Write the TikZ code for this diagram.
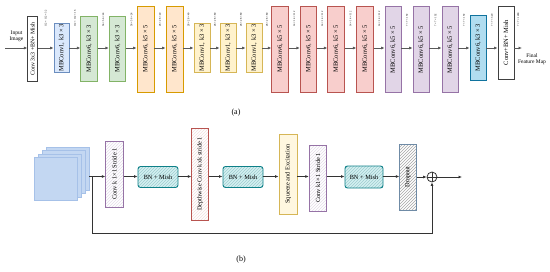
\documentclass[tikz,border=0pt]{standalone}
\usepackage{fontspec}
\setmainfont{Liberation Serif}
\usetikzlibrary{arrows.meta, patterns}

\definecolor{blueF}{HTML}{DAE8FC}   \definecolor{blueD}{HTML}{6C8EBF}
\definecolor{greenF}{HTML}{D5E8D4}  \definecolor{greenD}{HTML}{82B366}
\definecolor{orangeF}{HTML}{FFE6CC} \definecolor{orangeD}{HTML}{D79B00}
\definecolor{yellowF}{HTML}{FFF2CC} \definecolor{yellowD}{HTML}{D6B656}
\definecolor{redF}{HTML}{F8CECC}    \definecolor{redD}{HTML}{B85450}
\definecolor{purpleF}{HTML}{E1D5E7} \definecolor{purpleD}{HTML}{9673A6}
\definecolor{cyanF}{HTML}{B1DDF0}   \definecolor{cyanD}{HTML}{10739E}
\definecolor{tealF}{HTML}{B0E3E6}   \definecolor{tealD}{HTML}{0E8088}
\definecolor{mapF}{HTML}{C3D7F2}    \definecolor{mapD}{HTML}{A6C1E8}
\definecolor{dropD}{HTML}{6F8BA6}

\newcommand{\vtxt}[1]{\rotatebox{90}{#1}}

\tikzset{
  efbox/.style={rectangle, draw, line width=0.7pt, inner sep=0pt,
                font=\fontsize{6.5}{7}\selectfont},
  efconv/.style={efbox, draw=black!75, fill=white, minimum width=9.5pt},
  efblue/.style={efbox, draw=blueD, fill=blueF, minimum width=15pt},
  efgreen/.style={efbox, draw=greenD, fill=greenF, minimum width=16.5pt},
  eforange/.style={efbox, draw=orangeD, fill=orangeF, minimum width=17pt},
  efyellow/.style={efbox, draw=yellowD, fill=yellowF, minimum width=16pt},
  efred/.style={efbox, draw=redD, fill=redF, minimum width=16.5pt},
  efpurple/.style={efbox, draw=purpleD, fill=purpleF, minimum width=16pt},
  efcyan/.style={efbox, draw=cyanD, fill=cyanF, minimum width=16pt},
  efshort/.style={minimum height=49pt},
  efmid/.style={minimum height=65pt},
  eftall/.style={minimum height=86pt},
  efflow/.style={draw=black!65, line width=0.7pt,
                 -{Latex[length=3.5pt, width=3pt]}},
  efdim/.style={above=21pt, inner sep=0pt, font=\fontsize{2.7}{3}\selectfont},
  efnote/.style={align=center, inner sep=0pt, font=\fontsize{5.5}{6.2}\selectfont},
  efcap/.style={inner sep=0pt, font=\fontsize{8}{9}\selectfont},
  % block of the MBConv detail
  efmap/.style={rectangle, draw=mapD, fill=mapF, line width=0.6pt,
                minimum size=43pt},
  efstage/.style={efbox, line width=0.9pt, font=\fontsize{6.3}{7}\selectfont},
  efpw/.style={efstage, draw=purpleD, preaction={fill=white},
               pattern=north east lines, pattern color=purpleD!25,
               minimum width=17.5pt, minimum height=66pt},
  efbn/.style={efstage, rounded corners=2.5pt, draw=tealD,
               preaction={fill=tealF!55}, pattern=north east lines,
               pattern color=tealD!40, minimum width=40pt, minimum height=21pt},
  efdw/.style={efstage, draw=redD, preaction={fill=white},
               pattern=north east lines, pattern color=redD!18,
               minimum width=16.5pt, minimum height=92pt},
  efse/.style={efstage, draw=yellowD, fill=yellowF!60,
               minimum width=18pt, minimum height=80pt},
  efdrop/.style={efstage, draw=dropD, preaction={fill=white},
                 pattern=north east lines, pattern color=black!35,
                 minimum width=16.5pt, minimum height=66pt},
  efsum/.style={circle, draw=black!80, line width=0.8pt, minimum size=10pt,
                inner sep=0pt},
  eflink/.style={draw=black!80, line width=0.8pt,
                 -{Latex[length=3.5pt, width=3pt]}}
}

\begin{document}
\begin{tikzpicture}[x=1pt, y=-1pt]
  \useasboundingbox (0,0) rectangle (550,271);

  % (a) the backbone
  \node[efnote] (inimg) at (16.5,36) {Input\\Image};
  \coordinate (inpt) at (5,48);
  \node[efconv, efmid, font=\fontsize{5.9}{6.5}\selectfont] (conv) at (32.5,49)
    {\vtxt{Conv 3x3 +BN+ Mish}};
  \node[efblue, efshort] (mbA) at (61.5,48) {\vtxt{MBConv1, k3 × 3}};
  \foreach \n/\x in {gA/89, gB/117.5}
    \node[efgreen, efmid] (\n) at (\x,49) {\vtxt{MBConv6, k3 × 3}};
  \foreach \n/\x in {oA/145.5, oB/174.5}
    \node[eforange, eftall] (\n) at (\x,49) {\vtxt{MBConv6, k5 × 5}};
  \foreach \n/\x in {yA/202, yB/228, yC/254}
    \node[efyellow, efshort] (\n) at (\x,48) {\vtxt{MBConv1, k3 × 3}};
  \foreach \n/\x in {rA/280, rB/308.5, rC/336, rD/365}
    \node[efred, eftall] (\n) at (\x,49) {\vtxt{MBConv6, k5 × 5}};
  \foreach \n/\x in {pA/393, pB/421, pC/450}
    \node[efpurple, eftall] (\n) at (\x,49.5) {\vtxt{MBConv6, k5 × 5}};
  \node[efcyan, efmid] (cA) at (478,47.5) {\vtxt{MBConv6, k3 × 3}};
  \node[efconv, minimum width=16pt, minimum height=73pt] (fconv) at (506,42.5)
    {\vtxt{Conv+BN+ Mish}};
  \coordinate (fout) at (522,48);
  \node[efnote] (fmap) at (532,59) {Final\\Feature Map};

  \draw[efflow] (inpt) -- (conv.west |- inpt);
  \foreach \a/\b/\d in {conv/mbA/112 × 112 × 32, mbA/gA/112 × 112 × 16,
      gA/gB/56 × 56 × 24, gB/oA/56 × 56 × 24, oA/oB/28 × 28 × 40,
      oB/yA/28 × 28 × 40, yA/yB/28 × 28 × 80, yB/yC/28 × 28 × 80,
      yC/rA/28 × 28 × 80, rA/rB/14 × 14 × 112, rB/rC/14 × 14 × 112,
      rC/rD/14 × 14 × 112, rD/pA/14 × 14 × 112, pA/pB/7 × 7 × 192,
      pB/pC/7 × 7 × 192, pC/cA/7 × 7 × 192, cA/fconv/7 × 7 × 320}
    \draw[efflow] (\a.east |- inpt) -- node[efdim] {\vtxt{\d}} (\b.west |- inpt);
  \draw[efflow] (fconv.east |- inpt) -- node[efdim] {\vtxt{7 × 7 × 1280}} (fout);

  \node[efcap] (capA) at (236,113) {(a)};

  % (b) inside one MBConv block
  \foreach \k in {3,2,1,0}
    \node[efmap] (fm\k) at (55.5+4*\k, 179-3.4*\k) {};
  \node[efpw] (pwA) at (114.5,174) {\vtxt{Conv k 1×1 Stride 1}};
  \node[efbn] (bnA) at (158,177) {BN + Mish};
  \node[efdw] (dw) at (200,174) {\vtxt{Depthwise Conv kxk stride 1}};
  \node[efbn] (bnB) at (243,177) {BN + Mish};
  \node[efse] (se) at (288,174) {\vtxt{Squeeze and Excitation}};
  \node[efpw] (pwB) at (318,178) {\vtxt{Conv k1×1 Stride 1}};
  \node[efbn, minimum width=38pt, minimum height=22pt] (bnC) at (364,177) {BN + Mish};
  \node[efdrop] (drop) at (408,177) {\vtxt{Dropout}};
  \node[efsum] (sum) at (432,177) {};
  \draw[draw=black!80, line width=0.8pt] (sum.north) -- (sum.south)
    (sum.west) -- (sum.east);
  \coordinate (split) at (92,176.5);
  \coordinate (skipbot) at (92,233);
  \coordinate (bout) at (462,177);

  \draw[eflink] (fm3.east |- split) -- (pwA.west |- split);
  \draw[eflink] (pwA.east |- split) -- (bnA.west |- split);
  \draw[eflink] (bnA.east |- split) -- (dw.west |- split);
  \draw[eflink] (dw.east |- split) -- (bnB.west |- split);
  \draw[eflink] (bnB.east |- split) -- (se.west |- split);
  \draw[eflink] (se.east |- split) -- (pwB.west |- split);
  \draw[eflink] (pwB.east |- split) -- (bnC.west |- split);
  \draw[eflink] (bnC.east |- split) -- (drop.west |- split);
  \draw[eflink] (drop.east |- sum) -- (sum.west);
  \draw[eflink] (sum.east) -- (bout);
  \draw[eflink] (split) -- (skipbot) -| (sum.south);

  \node[efcap] (capB) at (241,260) {(b)};
\end{tikzpicture}
\end{document}
